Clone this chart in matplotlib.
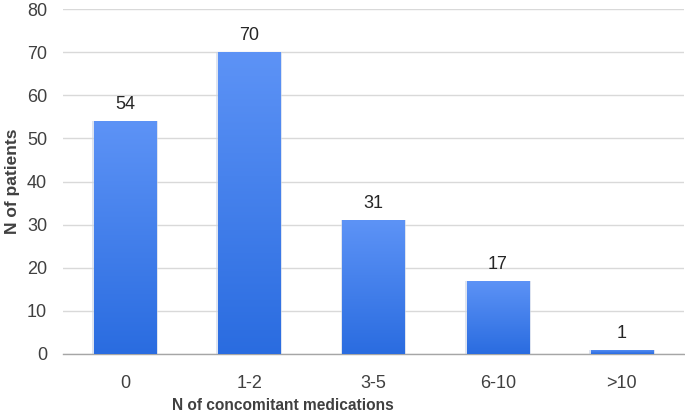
import matplotlib
matplotlib.use("Agg")
import matplotlib.pyplot as plt
import numpy as np
from matplotlib.colors import LinearSegmentedColormap

categories = ["0", "1-2", "3-5", "6-10", ">10"]
values = [54, 70, 31, 17, 1]
yticks = [0, 10, 20, 30, 40, 50, 60, 70, 80]

plt.rcParams['font.family'] = ['Liberation Sans', 'DejaVu Sans']

fig = plt.figure(figsize=(6.85, 4.13), dpi=100)
ax = fig.add_axes([63/685, 1-354/413, (684-63)/685, (354-9)/413])

x = np.arange(len(categories))
bars = ax.bar(x, values, width=0.5, color='#3b7ff0', edgecolor='none', zorder=2)

cmap = LinearSegmentedColormap.from_list('g', ['#2a6ce0', '#5d93f6'])
grad = np.linspace(0, 1, 256).reshape(-1, 1)
for b in bars:
    x0, y0 = b.get_x(), b.get_y()
    w, h = b.get_width(), b.get_height()
    ax.bar(x0 + w/2, h, width=w*1.06, color='#c8d3e6', edgecolor='none', zorder=1.5, alpha=0.6)
    im = ax.imshow(grad, cmap=cmap, origin='lower', aspect='auto',
                   extent=[x0, x0 + w, y0, y0 + h], zorder=3)
    im.set_clip_path(b)

for xi, v in zip(x, values):
    ax.text(xi, v + 2.8, str(v), ha='center', va='baseline', fontsize=13, color='#262626')

ax.set_xlim(-0.5, len(categories) - 0.5)
ax.set_ylim(0, 80)
ax.set_yticks(yticks)
ax.set_xticks(x)
ax.set_xticklabels(categories)
ax.tick_params(axis='both', length=0, labelsize=13, colors='#404040')
ax.tick_params(axis='y', pad=11.5)
ax.tick_params(axis='x', pad=15)
ax.grid(axis='y', color='#d9d9d9', linewidth=1, zorder=0)
ax.set_axisbelow(True)
for s in ['top', 'right', 'left']:
    ax.spines[s].set_visible(False)
ax.spines['bottom'].set_color('#a6a6a6')
ax.spines['bottom'].set_linewidth(1)

ax.set_xlabel('N of concomitant medications', fontsize=11.2, fontweight='bold',
              color='#404040', va='center')
ax.set_ylabel('N of patients', fontsize=12.5, fontweight='bold', color='#404040',
              va='center')
ax.xaxis.set_label_coords((283 - 63) / 621, (354 - 405) / 345)
ax.yaxis.set_label_coords((13 - 63) / 621, (354 - 181) / 345)

fig.savefig('out.png', dpi=100)
